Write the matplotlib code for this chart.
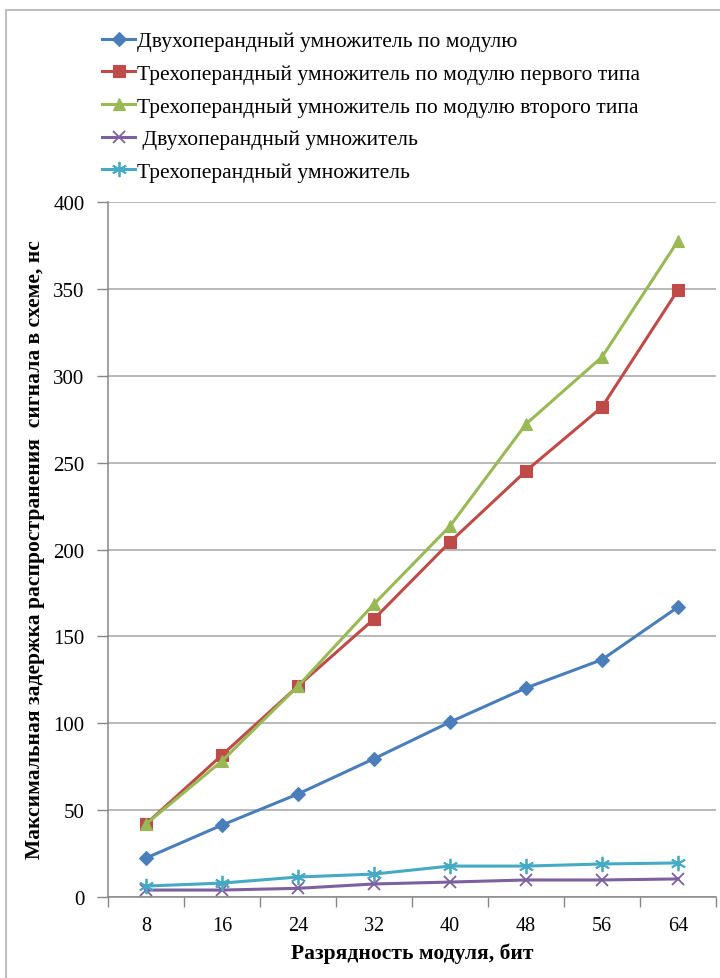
import matplotlib
matplotlib.use("Agg")
import matplotlib.pyplot as plt
from matplotlib.lines import Line2D

plt.rcParams['font.family'] = ['Liberation Serif', 'DejaVu Serif']

categories = ['8', '16', '24', '32', '40', '48', '56', '64']
series_names = [
    'Двухоперандный умножитель по модулю',
    'Трехоперандный умножитель по модулю первого типа',
    'Трехоперандный умножитель по модулю второго типа',
    ' Двухоперандный умножитель',
    'Трехоперандный умножитель',
]
two_op_mod = [22.4, 41.4, 59.3, 79.6, 100.7, 120.3, 136.6, 166.9]
three_op_mod1 = [42, 81.7, 121.4, 160, 204.3, 245.2, 282, 349.4]
three_op_mod2 = [42, 78.3, 121.4, 168.6, 213.5, 272.2, 310.8, 377.6]
two_op = [4, 4, 5, 7.5, 8.6, 9.8, 9.8, 10.4]
three_op = [6.3, 8, 11.5, 13.2, 17.8, 17.8, 19, 19.6]

y_ticks = [0, 50, 100, 150, 200, 250, 300, 350, 400]
x_label = 'Разрядность модуля, бит'
y_label = 'Максимальная задержка распространения  сигнала в схеме, нс'

colors = ['#4A7EBB', '#BE4B48', '#98B954', '#7D60A0', '#46AAC5']
markers = ['D', 's', '^', 'x', (6, 2, 0)]
msizes = [7, 8, 9, 9, 11]

fig = plt.figure(figsize=(7.2, 9.79), dpi=100)
ax = fig.add_axes([108/720, 1-898/979, (716-108)/720, (898-203)/979])

xs = list(range(len(categories)))
data = [two_op_mod, three_op_mod1, three_op_mod2, two_op, three_op]
handles = []
for name, vals, c, m, ms in zip(series_names, data, colors, markers, msizes):
    ln, = ax.plot(xs, vals, color=c, lw=2.2, marker=m, markersize=ms,
                  markeredgewidth=1.3 if m in ('x',) or isinstance(m, tuple) else 0.8,
                  markeredgecolor=c, markerfacecolor=c, label=name, zorder=3)
    handles.append(ln)

ax.set_xlim(-0.5, len(categories) - 0.5)
ax.set_ylim(0, 400)
ax.set_yticks(y_ticks)
ax.set_yticklabels([str(v) for v in y_ticks], fontsize=15)
ax.set_xticks(xs)
ax.set_xticklabels(categories, fontsize=14.5)
ax.set_xticks([i - 0.5 for i in range(len(categories) + 1)], minor=True)
ax.tick_params(axis='x', which='major', length=0, pad=14)
ax.tick_params(axis='x', which='minor', length=7, color='#868686', width=1)
ax.tick_params(axis='y', which='major', length=8, color='#868686', width=1, pad=9)
ax.grid(axis='y', color='#A6A6A6', lw=1.1)
ax.set_axisbelow(True)
for s in ['top', 'right']:
    ax.spines[s].set_visible(False)
for s in ['left', 'bottom']:
    ax.spines[s].set_color('#868686')
    ax.spines[s].set_linewidth(1.1)

ax.set_xlabel(x_label, fontsize=15.5, fontweight='bold')
ax.xaxis.set_label_coords(0.5, -(944-898)/695)
fig.text(35/720, 1-550/979, y_label, rotation=90, ha='center', va='center',
         fontsize=15.5, fontweight='bold')

fig.legend(handles=handles, loc='upper left', bbox_to_anchor=(83/720, 1-13/979),
           frameon=False, fontsize=15.5, handlelength=1.5, handletextpad=0.1,
           labelspacing=0.58)

# outer chart border (cropped at right/bottom)
fig.add_artist(Line2D([6/720, 6/720, 1.0], [0.0, 1-11/979, 1-11/979],
                      transform=fig.transFigure, color='#BFBFBF', lw=1.5))

fig.savefig('out.png', dpi=100)
